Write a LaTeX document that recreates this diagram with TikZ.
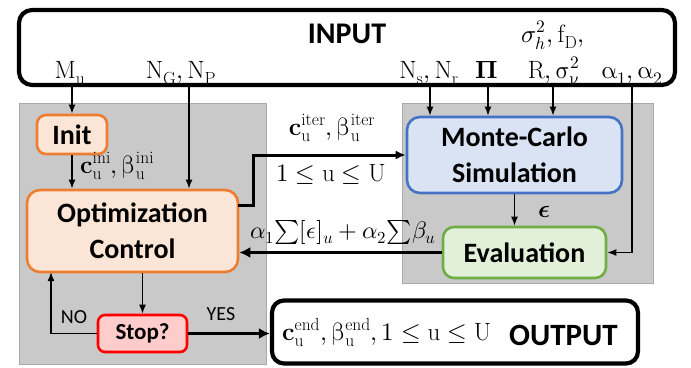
\documentclass[tikz,border=0pt]{standalone}
\usepackage{unicode-math}
\setmathfont{Latin Modern Math}
\newfontfamily\cfont{Carlito}
\usetikzlibrary{arrows.meta}
\definecolor{pgray}{RGB}{201,201,201}
\definecolor{pedge}{RGB}{170,170,170}
\definecolor{oedge}{RGB}{237,125,49}
\definecolor{ofill}{RGB}{251,229,214}
\definecolor{bedge}{RGB}{68,114,196}
\definecolor{bfill}{RGB}{218,227,243}
\definecolor{gedge}{RGB}{112,173,71}
\definecolor{gfill}{RGB}{226,240,217}
\definecolor{redge}{RGB}{255,0,0}
\definecolor{rfill}{RGB}{255,204,204}
\tikzset{
  panel/.style={fill=pgray, draw=pedge, line width=0.8pt},
  cbox/.style={rectangle, rounded corners=#1, line width=2.6pt, align=center, inner sep=0pt,
     font=\cfont\bfseries\fontsize{28}{36}\selectfont},
  bigbox/.style={rectangle, draw=black, fill=white, rounded corners=13pt, line width=4.2pt, inner sep=0pt},
  arr/.style={-{Latex[length=9pt,width=7pt]}, line width=1.5pt},
  fatarr/.style={-{Latex[length=11pt,width=11pt]}, line width=3.6pt},
  midarr/.style={-{Latex[length=10pt,width=9pt]}, line width=3pt},
  mlbl/.style={inner sep=0pt, anchor=base, font=\fontsize{25}{29}\selectfont},
  tlbl/.style={inner sep=0pt, anchor=base, font=\cfont\fontsize{20}{24}\selectfont}
}
\begin{document}
\begin{tikzpicture}[x=1pt,y=-1pt]
\useasboundingbox (0,0) rectangle (691,367);
% panels
\draw[panel] (19,103) rectangle (266,364);
\draw[panel] (402,103) rectangle (653,283);
% input / output
\node[bigbox, minimum width=656pt, minimum height=75pt] (inp) at (347,47.5) {};
\node[bigbox, rounded corners=12pt, minimum width=366pt, minimum height=63pt] (out) at (455,332) {};
\node[inner sep=0pt, anchor=base, font=\cfont\bfseries\fontsize{30}{32}\selectfont] (inptxt) at (347,43) {INPUT};
\node[inner sep=0pt, anchor=base west, font=\cfont\bfseries\fontsize{31}{33}\selectfont] (outtxt) at (509,345) {OUTPUT};
\node[mlbl, anchor=base west] (outval) at (282,340) {$\mathbf{c}_{\mathrm{u}}^{\mathrm{end}}, \symup{\beta}_{\mathrm{u}}^{\mathrm{end}}, 1 \leq \mathrm{u} \leq \mathrm{U}$};
% input labels
\node[mlbl] (lm) at (70,78) {$\mathrm{M}_{\mathrm{u}}$};
\node[mlbl] (lng) at (181,78) {$\mathrm{N}_{\mathrm{G}}, \mathrm{N}_{\mathrm{P}}$};
\node[mlbl] (lns) at (429,78) {$\mathrm{N}_{\mathrm{s}}, \mathrm{N}_{\mathrm{r}}$};
\node[mlbl] (lpi) at (487,78) {$\symbfup{\Pi}$};
\node[mlbl] (lr) at (554,78) {$\mathrm{R}, \symup{\sigma}_{\symup{\nu}}^{2}$};
\node[mlbl] (lal) at (632,78) {$\symup{\alpha}_{1}, \symup{\alpha}_{2}$};
\node[mlbl] (lsig) at (553,42) {$\sigma_{h}^{2}, \mathrm{f}_{\mathrm{D}},$};
% process boxes
\node[cbox=9pt, draw=oedge, fill=ofill, minimum width=70pt, minimum height=39pt] (init) at (72,134.5) {Init};
\node[cbox=13pt, draw=oedge, fill=ofill, minimum width=211pt, minimum height=82pt] (opt) at (132.5,231) {Optimization\\Control};
\node[cbox=7pt, draw=redge, fill=rfill, minimum width=89pt, minimum height=37pt, font=\cfont\bfseries\fontsize{23}{26}\selectfont] (stop) at (142.5,333.5) {Stop?};
\node[cbox=13pt, draw=bedge, fill=bfill, minimum width=215pt, minimum height=76pt] (mc) at (514.5,155) {Monte-Carlo\\Simulation};
\node[cbox=11pt, draw=gedge, fill=gfill, minimum width=163pt, minimum height=51pt] (ev) at (524.5,252.5) {Evaluation};
% coordinates on input box
\coordinate (pm) at (72,85);
\coordinate (png) at (189,85);
\coordinate (pns) at (430,85);
\coordinate (ppi) at (488,85);
\coordinate (pr) at (553,85);
\coordinate (pal) at (632,85);
\coordinate (iterstart) at (238,205);
\coordinate (noup) at (51,272);
% connectors
\draw[arr] (pm) -- (init.north);
\draw[arr] (png) -- (png |- opt.north);
\draw[arr] (init.south) -- (init.south |- opt.north);
\draw[arr] (pns) -- (pns |- mc.north);
\draw[arr] (ppi) -- (ppi |- mc.north);
\draw[arr] (pr) -- (pr |- mc.north);
\draw[arr] (pal) |- (ev.east);
\draw[arr] (mc.south) -- (mc.south |- ev.north);
\draw[arr] (stop.north |- opt.south) -- (stop.north);
\draw[arr] (stop.west) -| (noup);
\draw[midarr] (iterstart) -- ++(15,0) |- (mc.west);
\draw[fatarr] (ev.west) -- (ev.west -| opt.east);
\draw[fatarr] (stop.east) -- (stop.east -| out.west);
% labels
\node[mlbl, anchor=base west] (lini) at (80,173) {$\mathbf{c}_{\mathrm{u}}^{\mathrm{ini}}, \symup{\beta}_{\mathrm{u}}^{\mathrm{ini}}$};
\node[mlbl] (liter) at (332,135) {$\mathbf{c}_{\mathrm{u}}^{\mathrm{iter}}, \symup{\beta}_{\mathrm{u}}^{\mathrm{iter}}$};
\node[mlbl] (lrange) at (331,181) {$1 \leq \mathrm{u} \leq \mathrm{U}$};
\node[mlbl, font=\fontsize{24}{28}\selectfont] (lobj) at (343,238) {$\alpha_1 {\textstyle\sum} [\epsilon]_u + \alpha_2 {\textstyle\sum} \beta_u$};
\node[mlbl] (leps) at (545,217) {$\symbf{\epsilon}$};
\node[tlbl] (lno) at (74,323) {NO};
\node[tlbl] (lyes) at (221,320) {YES};
\end{tikzpicture}
\end{document}
